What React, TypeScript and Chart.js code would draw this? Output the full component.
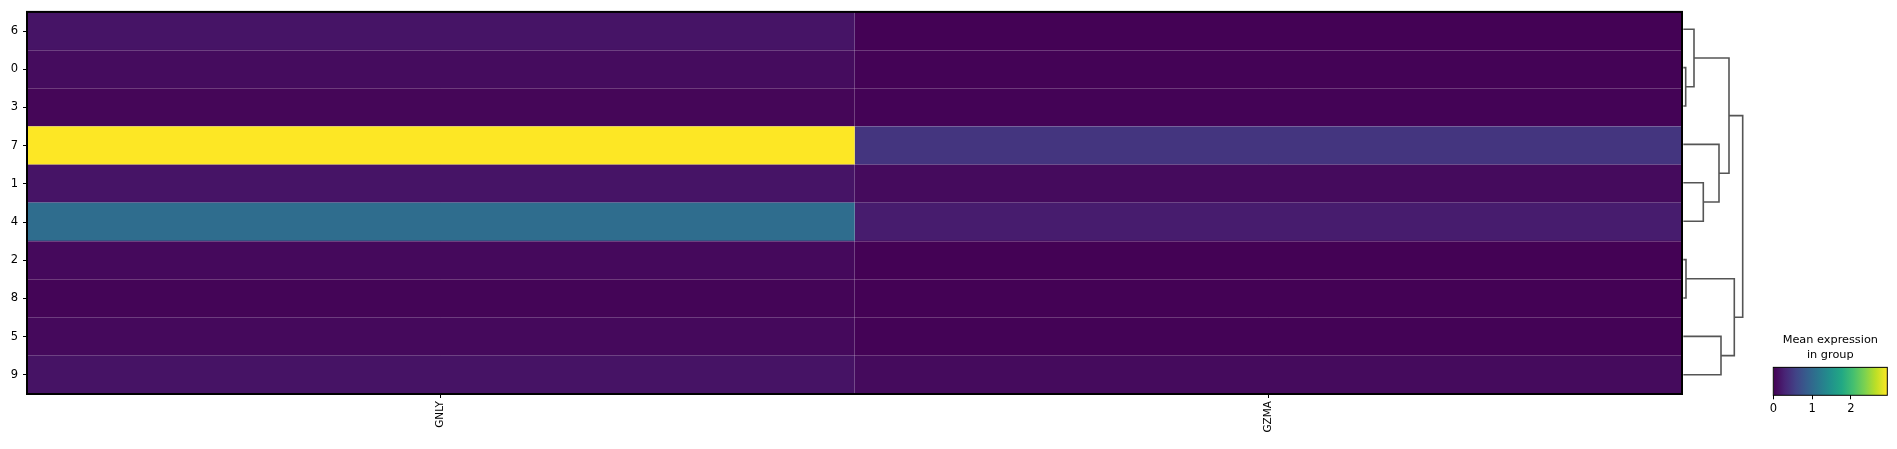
import React, { useEffect, useRef } from "react";
import { Chart, registerables } from "chart.js";

Chart.register(...registerables);

// ---------- data ----------
const rowLabels = ["6", "0", "3", "7", "1", "4", "2", "8", "5", "9"];
const genes = ["GNLY", "GZMA"];
const gnlyValues = [0.16, 0.09, 0.04, 2.94, 0.16, 1.05, 0.07, 0.03, 0.07, 0.15];
const gzmaValues = [0.01, 0.02, 0.02, 0.45, 0.08, 0.23, 0.01, 0.01, 0.02, 0.08];
const colorbarMin = 0;
const colorbarMax = 2.94;
const colorbarTicks = [0, 1, 2];
const colorbarTitle = ["Mean expression", "in group"];

// dendrogram (scipy-like icoord in row units, dcoord in link distance)
const dendroIcoord = [
  [1.5, 1.5, 2.5, 2.5],
  [0.5, 0.5, 2.0, 2.0],
  [4.5, 4.5, 5.5, 5.5],
  [3.5, 3.5, 5.0, 5.0],
  [1.25, 1.25, 4.25, 4.25],
  [6.5, 6.5, 7.5, 7.5],
  [8.5, 8.5, 9.5, 9.5],
  [7.0, 7.0, 9.0, 9.0],
  [2.75, 2.75, 8.0, 8.0],
];
const dendroDcoord = [
  [0, 2.4, 2.4, 0],
  [0, 10.7, 10.7, 2.4],
  [0, 20, 20, 0],
  [0, 35.7, 35.7, 20],
  [10.7, 45.7, 45.7, 35.7],
  [0, 2.7, 2.7, 0],
  [0, 37.7, 37.7, 0],
  [2.7, 51, 51, 37.7],
  [45.7, 59.4, 59.4, 51],
];

// ---------- colormap ----------
const VIRIDIS = [
  "#440154", "#482475", "#414487", "#355f8d", "#2a788e", "#21918c",
  "#22a884", "#44bf70", "#7ad151", "#bddf26", "#fde725",
];
function hexToRgb(h: string) {
  return [parseInt(h.slice(1, 3), 16), parseInt(h.slice(3, 5), 16), parseInt(h.slice(5, 7), 16)];
}
function viridis(t: number) {
  const c = Math.max(0, Math.min(1, t)) * 10;
  const i = Math.min(9, Math.floor(c));
  const f = c - i;
  const a = hexToRgb(VIRIDIS[i]);
  const b = hexToRgb(VIRIDIS[i + 1]);
  const r = a.map((v, k) => Math.round(v + (b[k] - v) * f));
  return `rgb(${r[0]},${r[1]},${r[2]})`;
}

const FONT = "'DejaVu Sans', sans-serif";

const framePlugin = (width: number) => ({
  id: "frame" + width,
  afterDraw(chart: any) {
    const { ctx, chartArea: a } = chart;
    ctx.save();
    ctx.strokeStyle = "#000";
    ctx.lineWidth = width;
    ctx.strokeRect(a.left, a.top, a.right - a.left, a.bottom - a.top);
    ctx.restore();
  },
});

export default function App() {
  const heatRef = useRef<HTMLCanvasElement>(null);
  const dendRef = useRef<HTMLCanvasElement>(null);
  const cbRef = useRef<HTMLCanvasElement>(null);

  useEffect(() => {
    Chart.defaults.font.family = FONT;
    const sepColor = "rgba(255,255,255,0.22)";

    const heat = new Chart(heatRef.current!, {
      type: "bar",
      data: {
        labels: rowLabels,
        datasets: [
          {
            label: genes[0],
            data: rowLabels.map(() => [0, 1]) as any,
            backgroundColor: gnlyValues.map((v) => viridis((v - colorbarMin) / (colorbarMax - colorbarMin))),
            barPercentage: 1,
            categoryPercentage: 1,
            grouped: false,
            borderWidth: 0,
            xAxisID: "x",
            yAxisID: "y",
          } as any,
          {
            label: genes[1],
            data: rowLabels.map(() => [1, 2]) as any,
            backgroundColor: gzmaValues.map((v) => viridis((v - colorbarMin) / (colorbarMax - colorbarMin))),
            barPercentage: 1,
            categoryPercentage: 1,
            grouped: false,
            borderWidth: 0,
            xAxisID: "x",
            yAxisID: "y",
          } as any,
        ],
      },
      options: {
        indexAxis: "y",
        responsive: false,
        animation: false,
        events: [],
        layout: { padding: { top: 10, right: 8, left: 0, bottom: 0 } },
        plugins: { legend: { display: false }, tooltip: { enabled: false }, title: { display: false } },
        scales: {
          y: {
            type: "category",
            position: "left",
            offset: true,
            grid: { offset: false, drawOnChartArea: false, drawTicks: true, tickLength: 4, color: "#000", lineWidth: 1 },
            border: { display: false },
            ticks: { color: "#000", font: { size: 11.5 }, padding: 5 },
            afterFit: (s: any) => { s.width = 27; },
          },
          yg: {
            type: "linear",
            position: "left",
            min: 0,
            max: 10,
            offset: false,
            ticks: { stepSize: 1, display: false },
            grid: { offset: false, z: 1, drawTicks: false, color: sepColor, lineWidth: 1 },
            border: { display: false },
            afterFit: (s: any) => { s.width = 0; },
          },
          x: {
            type: "linear",
            position: "bottom",
            min: 0,
            max: 2,
            offset: false,
            ticks: { stepSize: 1, display: false },
            grid: { offset: false, z: 1, drawTicks: false, color: sepColor, lineWidth: 1 },
            border: { display: false },
            afterFit: (s: any) => { s.height = 0; },
          },
          xl: {
            type: "category",
            position: "bottom",
            labels: genes,
            offset: true,
            grid: { offset: false, drawOnChartArea: false, drawTicks: true, tickLength: 4, color: "#000", lineWidth: 1 },
            border: { display: false },
            ticks: { color: "#000", font: { size: 10.5 }, padding: 3, minRotation: 90, maxRotation: 90, autoSkip: false },
            afterFit: (s: any) => { s.height = 55; },
          },
        } as any,
      },
      plugins: [framePlugin(2)],
    });

    const dend = new Chart(dendRef.current!, {
      type: "scatter",
      data: {
        datasets: dendroIcoord.map((ic, i) => ({
          data: ic.map((y, k) => ({ x: dendroDcoord[i][k], y })),
          showLine: true,
          borderColor: "#555555",
          borderWidth: 1.6,
          pointRadius: 0,
          tension: 0,
          fill: false,
        })),
      },
      options: {
        responsive: false,
        animation: false,
        events: [],
        layout: { padding: { top: 10, bottom: 10, left: 0, right: 0 } },
        plugins: { legend: { display: false }, tooltip: { enabled: false } },
        scales: {
          x: { type: "linear", min: -1.3, max: 68.7, display: false },
          y: { type: "linear", min: 0, max: 10, reverse: true, display: false },
        },
      },
    });

    const cb = new Chart(cbRef.current!, {
      type: "bar",
      data: {
        labels: [""],
        datasets: [
          {
            data: [[colorbarMin, colorbarMax]] as any,
            barPercentage: 1,
            categoryPercentage: 1,
            borderWidth: 0,
            backgroundColor: (ctx: any) => {
              const area = ctx.chart.chartArea;
              if (!area) return VIRIDIS[0];
              const g = ctx.chart.ctx.createLinearGradient(area.left, 0, area.right, 0);
              VIRIDIS.forEach((c, k) => g.addColorStop(k / (VIRIDIS.length - 1), c));
              return g;
            },
          } as any,
        ],
      },
      options: {
        indexAxis: "y",
        responsive: false,
        animation: false,
        events: [],
        layout: { padding: { top: 0, left: 13.3, right: 9.7, bottom: 0 } },
        plugins: {
          legend: { display: false },
          tooltip: { enabled: false },
          title: {
            display: true,
            text: colorbarTitle,
            color: "#000",
            font: { size: 11.3, weight: "normal", lineHeight: 1.33 },
            padding: { top: 12.5, bottom: 4.8 },
          },
        },
        scales: {
          y: { type: "category", display: false, offset: true },
          x: {
            type: "linear",
            min: colorbarMin,
            max: colorbarMax,
            afterBuildTicks: (s: any) => { s.ticks = colorbarTicks.map((v) => ({ value: v })); },
            grid: { drawOnChartArea: false, drawTicks: true, tickLength: 4, color: "#000", lineWidth: 1 },
            border: { display: false },
            ticks: { color: "#000", font: { size: 11.5 }, padding: 3 },
            afterFit: (s: any) => { s.height = 53.7; },
          },
        } as any,
      },
      plugins: [framePlugin(1)],
    });

    return () => {
      heat.destroy();
      dend.destroy();
      cb.destroy();
    };
  }, []);

  return (
    <div style={{ position: "absolute", left: 0, top: 0, width: 1897, height: 449, background: "#fff", overflow: "hidden" }}>
      <canvas ref={heatRef} width={1690} height={449} style={{ position: "absolute", left: 0, top: 0, width: 1690, height: 449 }} />
      <canvas ref={dendRef} width={70} height={404} style={{ position: "absolute", left: 1682, top: 0, width: 70, height: 404 }} />
      <canvas ref={cbRef} width={137} height={129} style={{ position: "absolute", left: 1760, top: 320, width: 137, height: 129 }} />
    </div>
  );
}
